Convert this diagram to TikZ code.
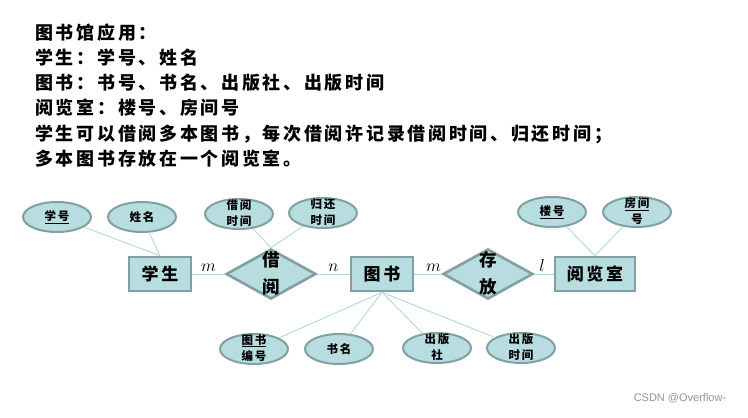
\documentclass[tikz,border=0pt]{standalone}
\usepackage{fontspec}
\setmainfont[LetterSpace=15]{Noto Sans CJK SC}
\newfontfamily\wmfont{Liberation Sans}
\usepackage{tikz}
\usetikzlibrary{shapes.geometric}
\definecolor{erfill}{RGB}{183,221,225}
\definecolor{erborder}{RGB}{128,160,162}
\definecolor{erline}{RGB}{178,216,221}
\newcommand{\twolines}[2]{\raisebox{-.52em}{\smash{\begin{tabular}{@{}c@{}}#1\\#2\end{tabular}}}}

\begin{document}
\begin{tikzpicture}[x=1pt, y=-1pt,
    entity/.style={draw=erborder, line width=2.6pt, fill=erfill, minimum width=62, minimum height=34, inner sep=0pt, font=\bfseries\fontsize{17}{27}\selectfont},
    relation/.style={diamond, draw=erborder, line width=2.6pt, fill=erfill, minimum width=90, minimum height=50, inner sep=0pt, font=\bfseries\fontsize{17.5}{27}\selectfont},
    attr/.style={ellipse, draw=erborder, line width=2pt, fill=erfill, minimum width=68, minimum height=30, inner sep=0pt, font=\bfseries\fontsize{11.5}{16}\selectfont},
    link/.style={draw=erline, line width=0.9pt},
    card/.style={above, yshift=1pt, inner sep=1pt, font=\fontsize{16}{16}\selectfont}]
    \useasboundingbox (0,0) rectangle (748,418);

    % requirements
    \node[anchor=north west, align=left, inner sep=0pt, font=\bfseries\fontsize{18}{25.2}\selectfont] (intro) at (35,23.5)
        {图书馆应用：\\学生：学号、姓名\\图书：书号、书名、出版社、出版时间\\阅览室：楼号、房间号\\学生可以借阅多本图书，每次借阅许记录借阅时间、归还时间；\\多本图书存放在一个阅览室。};

    % entities and relations
    \node[entity] at (160,274) (xuesheng) {学生};
    \node[relation] at (271,274) (jieyue) {\twolines{借}{阅}};
    \node[entity] at (382,274) (tushu) {图书};
    \node[relation] at (488,274) (cunfang) {\twolines{存}{放}};
    \node[entity, minimum width=80] at (595,274) (yuelanshi) {阅览室};

    % attributes
    \node[attr] at (57,217) (xuehao) {\underline{学号}};
    \node[attr] at (142,217) (xingming) {姓名};
    \node[attr] at (239,214) (jieyuetime) {\twolines{借阅}{时间}};
    \node[attr] at (323,213) (guihuantime) {\twolines{归还}{时间}};
    \node[attr] at (552,212) (louhao) {\underline{楼号}};
    \node[attr] at (637,212) (fangjianhao) {\twolines{\underline{房间}}{号}};
    \node[attr] at (254,349) (shuhao) {\twolines{\underline{图书}}{编号}};
    \node[attr] at (339,349) (shuming) {书名};
    \node[attr] at (437,348) (chubanshe) {\twolines{出版}{社}};
    \node[attr] at (521,348) (chubantime) {\twolines{出版}{时间}};

    % links
    \draw[link] (xuesheng) -- node[card] {$m$} (jieyue);
    \draw[link] (jieyue) -- node[card] {$n$} (tushu);
    \draw[link] (tushu) -- node[card, pos=0.7] {$m$} (cunfang);
    \draw[link] (cunfang) -- node[card, pos=0.4] {$l$} (yuelanshi);
    \draw[link] (xuehao) -- (xuesheng.north);
    \draw[link] (xingming) -- (xuesheng.north);
    \draw[link] (jieyuetime) -- (jieyue.north);
    \draw[link] (guihuantime) -- (jieyue.north);
    \draw[link] (louhao) -- (yuelanshi.north);
    \draw[link] (fangjianhao) -- (yuelanshi.north);
    \foreach \a in {shuhao, shuming, chubanshe, chubantime}
        \draw[link] (tushu.south) -- (\a);

    % watermark
    \node[text=gray!85, font=\wmfont\fontsize{11}{11}\selectfont] at (680,398) (mark) {CSDN @Overflow-};
\end{tikzpicture}
\end{document}
